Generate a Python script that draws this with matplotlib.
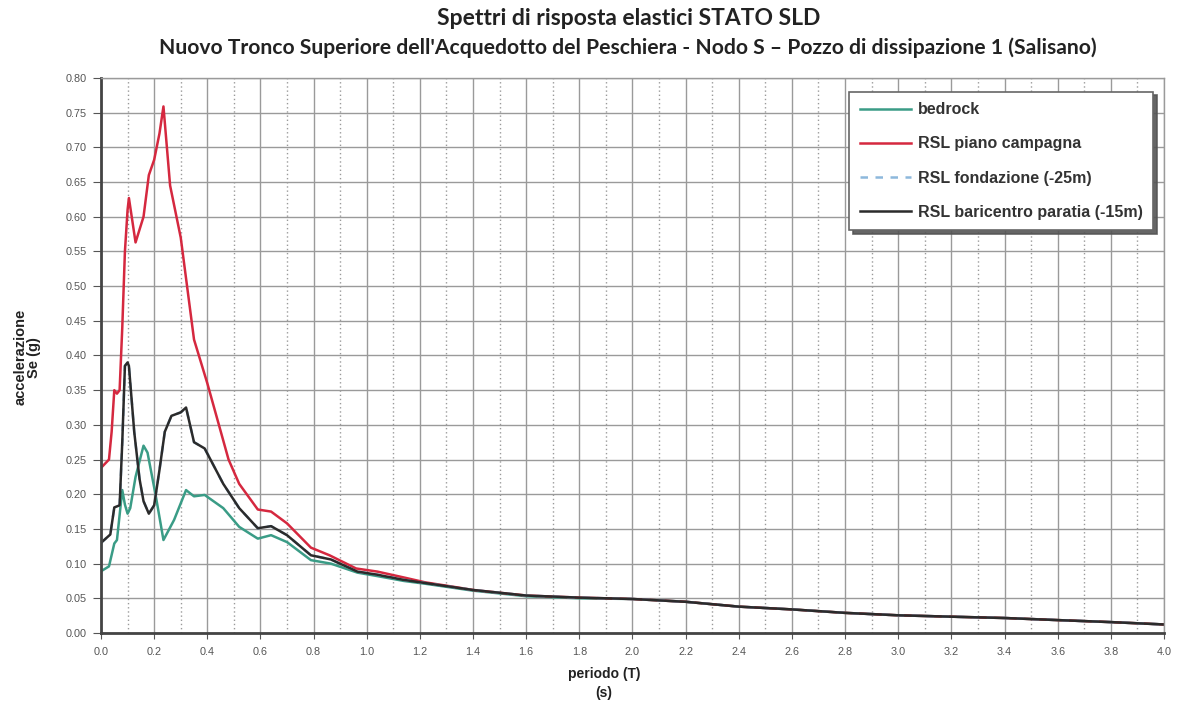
import matplotlib
matplotlib.use("Agg")
import matplotlib.pyplot as plt
from matplotlib.ticker import MultipleLocator, FormatStrFormatter

# ---------------- data ----------------
T_red = [0.0, 0.03, 0.04, 0.05, 0.06, 0.07, 0.08, 0.09, 0.10, 0.105, 0.13, 0.16, 0.18, 0.20,
         0.22, 0.235, 0.26, 0.30, 0.35, 0.40, 0.44, 0.48, 0.52, 0.59, 0.64, 0.70, 0.79, 0.86,
         0.96, 1.04, 1.14, 1.22, 1.32, 1.40, 1.60, 1.80, 2.00, 2.20, 2.40, 2.60, 2.80, 3.00,
         3.20, 3.40, 3.60, 3.80, 4.00]
Se_red = [0.238, 0.250, 0.290, 0.350, 0.345, 0.350, 0.440, 0.550, 0.610, 0.627, 0.563, 0.600,
          0.660, 0.682, 0.720, 0.759, 0.645, 0.570, 0.423, 0.360, 0.305, 0.250, 0.215, 0.178,
          0.175, 0.158, 0.123, 0.112, 0.093, 0.0885, 0.080, 0.073, 0.067, 0.062, 0.054, 0.051,
          0.049, 0.045, 0.038, 0.034, 0.029, 0.0255, 0.0235, 0.0216, 0.0186, 0.0157, 0.0123]

T_black = [0.0, 0.035, 0.05, 0.07, 0.08, 0.09, 0.10, 0.105, 0.125, 0.145, 0.16, 0.18, 0.20,
           0.22, 0.24, 0.265, 0.30, 0.32, 0.35, 0.39, 0.46, 0.52, 0.59, 0.64, 0.70, 0.79,
           0.865, 0.965, 1.04, 1.14, 1.22, 1.40, 1.60, 1.80, 2.00, 2.20, 2.40, 2.60, 2.80,
           3.00, 3.20, 3.40, 3.60, 3.80, 4.00]
Se_black = [0.130, 0.142, 0.181, 0.184, 0.275, 0.385, 0.390, 0.385, 0.290, 0.222, 0.190, 0.172,
            0.184, 0.235, 0.290, 0.313, 0.318, 0.325, 0.275, 0.266, 0.215, 0.180, 0.151, 0.154,
            0.141, 0.112, 0.106, 0.0885, 0.084, 0.0765, 0.072, 0.062, 0.054, 0.051, 0.049,
            0.045, 0.038, 0.034, 0.029, 0.0255, 0.0235, 0.0216, 0.0186, 0.0157, 0.0123]

# fondazione (-25m): hidden under the baricentro curve in the picture
T_fond = [0.0, 0.035, 0.05, 0.07, 0.08, 0.09, 0.10, 0.105, 0.125, 0.145, 0.16, 0.18, 0.20,
          0.22, 0.24, 0.265, 0.30, 0.32, 0.35, 0.39, 0.46, 0.52, 0.59, 0.64, 0.70, 0.79,
          0.865, 0.965, 1.04, 1.14, 1.22, 1.40, 1.60, 1.80, 2.00, 2.20, 2.40, 2.60, 2.80,
          3.00, 3.20, 3.40, 3.60, 3.80, 4.00]
Se_fond = [0.130, 0.142, 0.181, 0.184, 0.275, 0.385, 0.390, 0.385, 0.290, 0.222, 0.190, 0.172,
           0.184, 0.235, 0.290, 0.313, 0.318, 0.325, 0.275, 0.266, 0.215, 0.180, 0.151, 0.154,
           0.141, 0.112, 0.106, 0.0885, 0.084, 0.0765, 0.072, 0.062, 0.054, 0.051, 0.049,
           0.045, 0.038, 0.034, 0.029, 0.0255, 0.0235, 0.0216, 0.0186, 0.0157, 0.0123]

T_green = [0.0, 0.03, 0.05, 0.06, 0.08, 0.09, 0.10, 0.11, 0.13, 0.16, 0.175, 0.205, 0.235,
           0.275, 0.32, 0.35, 0.39, 0.46, 0.52, 0.59, 0.64, 0.70, 0.79, 0.865, 0.965, 1.04,
           1.14, 1.22, 1.40, 1.60, 1.80, 2.00, 2.20, 2.40, 2.60, 2.80, 3.00, 3.20, 3.40, 3.60,
           3.80, 4.00]
Se_green = [0.089, 0.096, 0.129, 0.134, 0.206, 0.185, 0.172, 0.180, 0.225, 0.270, 0.260, 0.200,
            0.134, 0.163, 0.206, 0.197, 0.199, 0.180, 0.153, 0.136, 0.141, 0.131, 0.105, 0.100,
            0.087, 0.082, 0.075, 0.071, 0.061, 0.053, 0.050, 0.049, 0.045, 0.038, 0.034, 0.029,
            0.0255, 0.0235, 0.0216, 0.0186, 0.0157, 0.0123]

labels = ["bedrock", "RSL piano campagna", "RSL fondazione (-25m)", "RSL baricentro paratia (-15m)"]
title = "Spettri di risposta elastici STATO SLD"
subtitle = "Nuovo Tronco Superiore dell'Acquedotto del Peschiera - Nodo S \u2013 Pozzo di dissipazione 1 (Salisano)"

# ---------------- figure ----------------
fig = plt.figure(figsize=(11.8, 7.02), dpi=100)
ax = fig.add_axes([0.0856, 0.0983, 0.9008, 0.7906])

ax.set_xlim(0, 4.0)
ax.set_ylim(0, 0.80)
ax.xaxis.set_major_locator(MultipleLocator(0.2))
ax.xaxis.set_minor_locator(MultipleLocator(0.1))
ax.yaxis.set_major_locator(MultipleLocator(0.05))
ax.xaxis.set_major_formatter(FormatStrFormatter("%.1f"))
ax.yaxis.set_major_formatter(FormatStrFormatter("%.2f"))

ax.grid(which="major", axis="both", color="#9a9a9a", lw=1.0, ls="-")
ax.grid(which="minor", axis="x", color="#9a9a9a", lw=1.0, ls=(0, (1, 2)))
ax.set_axisbelow(True)

ax.tick_params(axis="both", which="major", labelsize=7.8, labelcolor="#555555",
               color="#555555", length=6, direction="out")
ax.tick_params(axis="y", which="major", pad=4)
ax.tick_params(axis="x", which="major", length=4, pad=6)
ax.tick_params(axis="x", which="minor", length=0)
for lab in ax.get_xticklabels() + ax.get_yticklabels():
    lab.set_family("Liberation Sans")

for side in ["top", "right"]:
    ax.spines[side].set_color("#9a9a9a")
    ax.spines[side].set_linewidth(1.0)
for side in ["left", "bottom"]:
    ax.spines[side].set_color("#444444")
    ax.spines[side].set_linewidth(2.0)

l1, = ax.plot(T_green, Se_green, color="#3a9c86", lw=1.8, label=labels[0])
l2, = ax.plot(T_red, Se_red, color="#d5283f", lw=1.8, label=labels[1])
l3, = ax.plot(T_fond, Se_fond, color="#8db8dc", lw=1.8, ls=(0, (3, 3)), label=labels[2])
l4, = ax.plot(T_black, Se_black, color="#2b2b2b", lw=1.8, label=labels[3])

leg = ax.legend(handles=[l1, l2, l3, l4], loc="upper right", bbox_to_anchor=(0.99, 0.975),
                frameon=True, fancybox=False,
                shadow={"ox": 2.5, "oy": -2.5, "color": "#555555", "alpha": 0.9},
                edgecolor="#666666", framealpha=1.0, handlelength=3.2, labelspacing=1.2,
                borderpad=0.65, handletextpad=0.45, borderaxespad=0.0,
                prop={"family": "Liberation Sans", "size": 11.5, "weight": "bold"})
for t in leg.get_texts():
    t.set_color("#333333")
leg.get_frame().set_linewidth(1.2)

fig.text(0.533, 0.974, title, ha="center", va="center", fontsize=16.5, fontweight="bold",
         family="Lato", color="#222222")
fig.text(0.532, 0.932, subtitle, ha="center", va="center", fontsize=15.2, fontweight="bold",
         family="Lato", color="#222222")

fig.text(0.023, 0.491, "accelerazione\nSe (g)", rotation=90, ha="center", va="center",
         fontsize=10.5, fontweight="bold", family="Liberation Sans", color="#222222",
         multialignment="center", linespacing=1.0)
fig.text(0.512, 0.026, "periodo (T)\n(s)", ha="center", va="center", fontsize=10,
         fontweight="bold", family="Liberation Sans", color="#222222", multialignment="center",
         linespacing=1.5)

fig.savefig("out.png", dpi=100)
